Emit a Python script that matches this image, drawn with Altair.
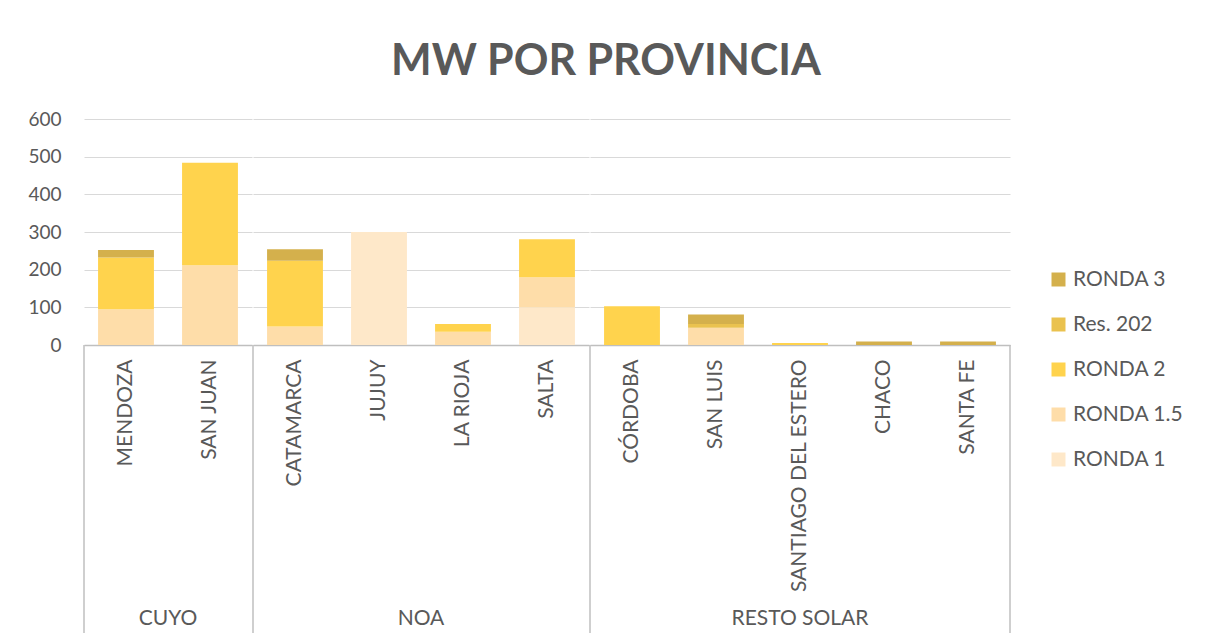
import altair as alt
import pandas as pd

# ---- data ----
provinces = ["MENDOZA", "SAN JUAN", "CATAMARCA", "JUJUY", "LA RIOJA", "SALTA",
             "CÓRDOBA", "SAN LUIS", "SANTIAGO DEL ESTERO", "CHACO", "SANTA FE"]
regions = ["CUYO", "CUYO", "NOA", "NOA", "NOA", "NOA",
           "RESTO SOLAR", "RESTO SOLAR", "RESTO SOLAR", "RESTO SOLAR", "RESTO SOLAR"]
region_order = ["CUYO", "NOA", "RESTO SOLAR"]
series = ["RONDA 1", "RONDA 1.5", "RONDA 2", "Res. 202", "RONDA 3"]
ronda1 = [0, 0, 0, 300, 0, 100, 0, 0, 0, 0, 0]
ronda15 = [95, 212, 49, 0, 35, 80, 0, 46, 0, 0, 0]
ronda2 = [137, 272, 175, 0, 21, 101, 103, 0, 5, 0, 0]
res202 = [0, 0, 0, 0, 0, 0, 0, 10, 0, 0, 0]
ronda3 = [20, 0, 30, 0, 0, 0, 0, 25, 0, 9, 9]
y_ticks = [0, 100, 200, 300, 400, 500, 600]

legend_order = ["RONDA 3", "Res. 202", "RONDA 2", "RONDA 1.5", "RONDA 1"]
legend_colors = ["#D4B04C", "#EAC24F", "#FFD34D", "#FEDDA9", "#FEE8C9"]

values_by_series = [ronda1, ronda15, ronda2, res202, ronda3]
rows = []
for i, p in enumerate(provinces):
    for k, s in enumerate(series):
        rows.append({"province": p, "region": regions[i], "series": s,
                     "value": values_by_series[k][i], "order": k})
df = pd.DataFrame(rows)

FONT = "Lato"
GREY = "#595959"
H = 226
STEP = 84

bars = alt.Chart().mark_bar(width=alt.RelativeBandSize(0.665)).encode(
    x=alt.X("province:N", sort=provinces, title=None,
            scale=alt.Scale(paddingInner=0, paddingOuter=0),
            axis=alt.Axis(labelAngle=270, labelFontSize=21, labelColor=GREY, labelFont=FONT,
                          ticks=False, tickSize=0, domainColor="#BFBFBF", domainWidth=1.5,
                          labelPadding=14, labelLimit=0, grid=False)),
    y=alt.Y("value:Q", stack="zero", title=None, scale=alt.Scale(domain=[0, 600]),
            axis=alt.Axis(values=y_ticks, labelFontSize=19, labelColor=GREY, labelFont=FONT,
                          domain=False, ticks=False, tickSize=0, gridColor="#D9D9D9",
                          gridWidth=1, labelPadding=22)),
    color=alt.Color("series:N", scale=alt.Scale(domain=legend_order, range=legend_colors),
                    legend=alt.Legend(title=None, orient="none", legendX=964, legendY=150,
                                      labelFontSize=21, labelColor=GREY, labelFont=FONT,
                                      symbolType="square", symbolSize=196, symbolStrokeWidth=0,
                                      rowPadding=23, labelOffset=4)),
    order=alt.Order("order:Q", sort="ascending"),
)

sep_left = alt.Chart().transform_aggregate(
    n="count()", groupby=["region"]
).mark_rule(color="#BFBFBF", strokeWidth=1.5).encode(
    x=alt.value(0), y=alt.value(H), y2=alt.value(H + 288)
)

sep_right = alt.Chart().transform_filter(
    (alt.datum.province == provinces[-1]) & (alt.datum.order == 0)
).mark_rule(color="#BFBFBF", strokeWidth=1.5).encode(
    x=alt.X("province:N", sort=provinces, bandPosition=1, title=None),
    y=alt.value(H), y2=alt.value(H + 288)
)

layered = alt.layer(bars, sep_left, sep_right).properties(width=alt.Step(STEP), height=H)

chart = layered.facet(
    column=alt.Column("region:N", sort=region_order, title=None,
                      header=alt.Header(labelOrient="bottom", labelFontSize=21, labelColor=GREY,
                                        labelFont=FONT, labelPadding=-26)),
    data=df, spacing=0,
).resolve_scale(x="independent").properties(
    title=alt.Title("MW POR PROVINCIA", fontSize=43, font=FONT, fontWeight="bold",
                    color=GREY, anchor="middle", offset=26),
    padding={"left": 19, "top": 33, "right": 5, "bottom": 5},
).configure_view(stroke=None)

chart.save("out.html", embed_options={"renderer": "svg", "actions": False})
